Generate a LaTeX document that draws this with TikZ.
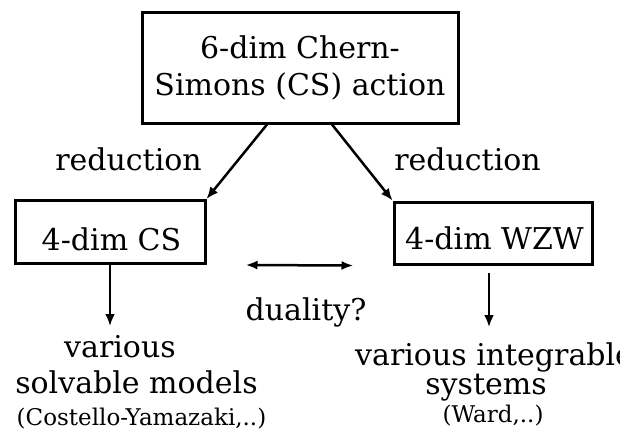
\documentclass[tikz,border=0pt]{standalone}
\usepackage{fontspec}
\setmainfont{DejaVu Serif}
\usetikzlibrary{arrows.meta}
\begin{document}
\begin{tikzpicture}[x=1pt,y=-1pt,
  box/.style={draw, line width=3pt, inner sep=0pt},
  txt/.style={font=\fontsize{30}{37}\selectfont, inner sep=0pt, anchor=base},
  small/.style={font=\fontsize{23}{27}\selectfont, inner sep=0pt, anchor=base},
  arr/.style={-{Latex[length=12pt,width=10pt]}, line width=2.5pt},
  darr/.style={{Latex[length=12pt,width=9pt]}-{Latex[length=12pt,width=9pt]}, line width=2.5pt},
]
\useasboundingbox (0,0) rectangle (620,440);
\node[box, minimum width=316pt, minimum height=111pt, align=center, font=\fontsize{30}{37}\selectfont] (top) at (300,67.5) {6-dim Chern-\\Simons (CS) action};
\node[box, minimum width=190pt, minimum height=63pt] (cs) at (110,232) {};
\node[txt] (cstxt) at (111.5,250) {4-dim CS};
\node[box, minimum width=198pt, minimum height=62pt] (wzw) at (493,233) {};
\node[txt] (wzwtxt) at (494.5,249) {4-dim WZW};
\node[txt] (redl) at (128.5,170) {reduction};
\node[txt] (redr) at (467.5,170) {reduction};
\node[txt] (dual) at (306,320) {duality?};
\node[txt] (var1) at (120,357) {various};
\node[txt] (solv) at (136.5,393) {solvable models};
\node[small] (cost) at (141.5,425) {(Costello-Yamazaki,..)};
\node[txt, anchor=base west] (var2) at (355,365) {various integrable};
\node[txt] (sys) at (486,394) {systems};
\node[small] (ward) at (493,422) {(Ward,..)};
\coordinate (csend) at (110,326);
\coordinate (wzwstart) at (489,273);
\coordinate (wzwend) at (489,327);
\draw[arr] ([xshift=-33pt]top.south) -- (cs.north east);
\draw[arr] ([xshift=32pt]top.south) -- (wzw.north west);
\draw[arr] (cs.south) -- (csend);
\draw[arr] (wzwstart) -- (wzwend);
\draw[darr] ([xshift=39pt]cs.south east) -- ([xshift=-39pt]wzw.south west);
\end{tikzpicture}
\end{document}
